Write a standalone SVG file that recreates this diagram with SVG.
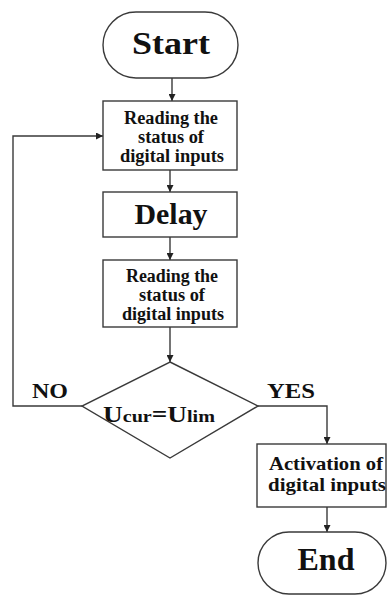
<svg xmlns="http://www.w3.org/2000/svg" width="387" height="595" viewBox="0 0 387 595">
<style>
.s{fill:#fff;stroke:#3a3a3a;stroke-width:1.4}
.t{font-family:"Liberation Serif","DejaVu Serif",serif;font-weight:bold;fill:#111;text-anchor:middle}
.c{fill:none;stroke:#3a3a3a;stroke-width:1.4}
</style>
<defs>
<marker id="a" viewBox="0 0 10 10" refX="10" refY="5" markerWidth="7" markerHeight="7" markerUnits="userSpaceOnUse" orient="auto">
<path d="M0,0 L10,5 L0,10 z" fill="#222"/>
</marker>
</defs>
<rect width="387" height="595" fill="#fff"/>
<g id="connectors">
<path class="c" d="M172,78 V101" marker-end="url(#a)"/>
<path class="c" d="M170,170 V192" marker-end="url(#a)"/>
<path class="c" d="M170,237 V260" marker-end="url(#a)"/>
<path class="c" d="M170,327 V362" marker-end="url(#a)"/>
<path class="c" d="M82,406 H13 V136 H103" marker-end="url(#a)"/>
<path class="c" d="M258,406 H327 V444" marker-end="url(#a)"/>
<path class="c" d="M327,507 V532" marker-end="url(#a)"/>
</g>
<g id="start">
<rect class="s" x="103" y="12" width="135" height="66" rx="33"/>
<text class="t" x="171" y="54" font-size="31" textLength="78" lengthAdjust="spacingAndGlyphs">Start</text>
</g>
<g id="read1">
<rect class="s" x="103" y="101" width="134" height="69"/>
<text class="t" x="171" y="124" font-size="18" textLength="94" lengthAdjust="spacingAndGlyphs">Reading the</text>
<text class="t" x="171" y="143" font-size="18" textLength="66" lengthAdjust="spacingAndGlyphs">status of</text>
<text class="t" x="172" y="162" font-size="18" textLength="104" lengthAdjust="spacingAndGlyphs">digital inputs</text>
</g>
<g id="delay">
<rect class="s" x="103" y="192" width="134" height="45"/>
<text class="t" x="171" y="224" font-size="29" textLength="73" lengthAdjust="spacingAndGlyphs">Delay</text>
</g>
<g id="read2">
<rect class="s" x="103" y="260" width="134" height="67"/>
<text class="t" x="172" y="282" font-size="18" textLength="92" lengthAdjust="spacingAndGlyphs">Reading the</text>
<text class="t" x="172" y="301" font-size="18" textLength="66" lengthAdjust="spacingAndGlyphs">status of</text>
<text class="t" x="173" y="320" font-size="18" textLength="102" lengthAdjust="spacingAndGlyphs">digital inputs</text>
</g>
<g id="decision">
<polygon class="s" points="170,362 258,406 170,458 82,406"/>
<text class="t" x="159" y="422" font-size="23" textLength="112" lengthAdjust="spacingAndGlyphs">U<tspan font-size="17">cur</tspan>=U<tspan font-size="17">lim</tspan></text>
</g>
<g id="labels">
<text class="t" x="50" y="398" font-size="22" textLength="36" lengthAdjust="spacingAndGlyphs">NO</text>
<text class="t" x="291" y="398" font-size="22" textLength="48" lengthAdjust="spacingAndGlyphs">YES</text>
</g>
<g id="activation">
<rect class="s" x="257" y="444" width="129" height="63"/>
<text class="t" x="326" y="470" font-size="19" textLength="114" lengthAdjust="spacingAndGlyphs">Activation of</text>
<text class="t" x="327" y="491" font-size="19" textLength="118" lengthAdjust="spacingAndGlyphs">digital inputs</text>
</g>
<g id="end">
<rect class="s" x="258" y="532" width="128" height="62" rx="31"/>
<text class="t" x="326" y="570" font-size="31" textLength="57" lengthAdjust="spacingAndGlyphs">End</text>
</g>
</svg>
